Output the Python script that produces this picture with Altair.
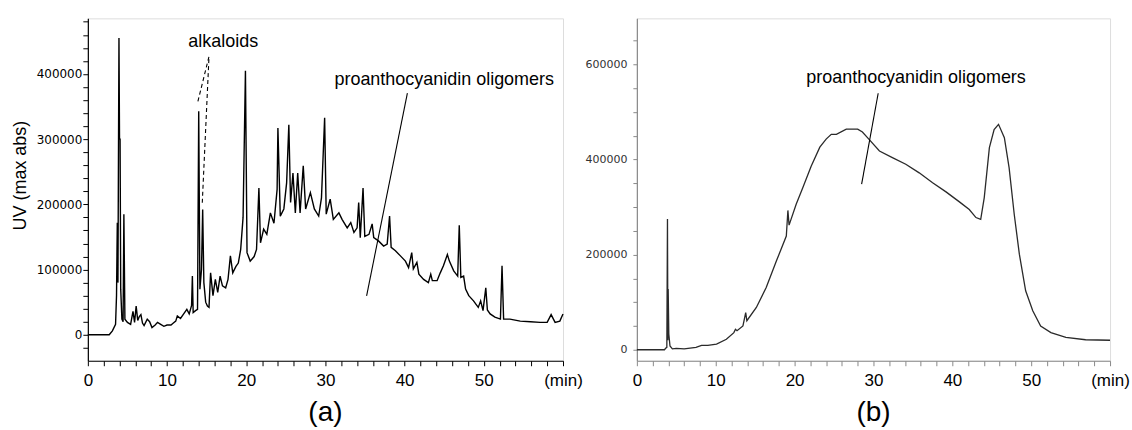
import altair as alt
import pandas as pd

# ---------------- panel (a): full extract chromatogram ----------------
a_time = [0, 2.7, 3.1, 3.5, 3.62, 3.72, 3.8, 3.93, 4.0, 4.07, 4.15, 4.3, 4.45, 4.55, 4.68,
          5.0, 5.4, 5.7, 5.9, 6.1, 6.3, 6.5, 6.7, 6.9, 7.1, 7.5, 7.8, 8.1, 8.5, 8.8, 9.2,
          9.6, 10.0, 10.5, 10.8, 11.1, 11.3, 11.7, 12.1, 12.5, 12.8, 13.1, 13.2, 13.3, 13.6,
          13.85, 14.0, 14.15, 14.35, 14.5, 14.65, 14.88, 15.1, 15.3, 15.5, 15.8, 16.1, 16.4,
          16.7, 17.0, 17.4, 17.7, 18.0, 18.3, 18.7, 19.0, 19.3, 19.6, 19.9, 20.1, 20.5, 21.0,
          21.3, 21.6, 21.8, 22.2, 22.6, 23.05, 23.5, 23.9, 24.0, 24.3, 24.75, 25.1, 25.38,
          25.6, 25.9, 26.2, 26.5, 26.8, 27.2, 27.5, 28.1, 28.6, 29.15, 29.5, 29.9, 30.1, 30.6,
          31.0, 31.7, 32.1, 32.75, 33.2, 33.6, 34.0, 34.2, 34.4, 34.75, 34.97, 35.5, 35.9,
          36.1, 36.7, 37.35, 37.8, 38.1, 38.3, 38.84, 39.47, 40.1, 40.5, 40.9, 41.1, 41.55,
          41.8, 42.4, 43.0, 43.3, 43.5, 44.1, 44.5, 44.9, 45.4, 45.65, 46.2, 46.7, 46.9, 47.1,
          47.45, 47.7, 48.1, 48.7, 49.3, 49.6, 49.9, 50.25, 50.45, 50.8, 51.4, 52.1, 52.3,
          52.5, 53.3, 54.6, 55.9, 57.1, 58.0, 58.5, 59.0, 59.6, 60.0]
a_uv = [0, 0, 6000, 16000, 60000, 172000, 80000, 455000, 300000, 300000, 70000, 24000, 20000,
        185000, 24000, 19000, 16000, 36000, 19000, 44000, 22000, 28000, 31000, 18000, 14000,
        24000, 20000, 11000, 15000, 19000, 16000, 13000, 15000, 15000, 18000, 21000, 29000,
        25000, 32000, 39000, 32000, 45000, 90000, 34000, 37000, 39000, 343000, 70000, 100000,
        192000, 80000, 50000, 44000, 42000, 95000, 60000, 85000, 65000, 90000, 75000, 72000,
        85000, 121000, 95000, 105000, 110000, 131000, 180000, 405000, 126000, 113000, 120000,
        131000, 225000, 141000, 162000, 154000, 187000, 171000, 223000, 317000, 182000, 193000,
        233000, 322000, 203000, 248000, 187000, 248000, 187000, 259000, 193000, 218000, 193000,
        182000, 210000, 333000, 185000, 208000, 177000, 187000, 177000, 164000, 172000, 157000,
        164000, 203000, 149000, 225000, 151000, 154000, 170000, 149000, 144000, 136000, 139000,
        182000, 134000, 129000, 121000, 113000, 103000, 126000, 101000, 111000, 93000, 85000,
        80000, 93000, 83000, 83000, 95000, 106000, 123000, 113000, 98000, 90000, 168000, 88000,
        90000, 70000, 60000, 52000, 42000, 52000, 37000, 72000, 38000, 32000, 27000, 24000,
        106000, 24000, 24000, 21000, 20000, 19000, 19000, 31000, 19000, 21000, 32000]

# ---------------- panel (b): oligomer fraction ----------------
b_time = [0, 3.5, 3.65, 3.8, 3.88, 3.93, 3.97, 4.05, 4.2, 4.5, 5.0, 6.0, 7.5, 8.2, 9.0, 10.1,
          11.35, 12.3, 12.5, 12.7, 13.45, 13.8, 13.95, 15.15, 16.4, 17.7, 18.95, 19.15, 19.3,
          20.2, 21.05, 22.1, 23.2, 24.0, 24.65, 25.3, 26.55, 28.0, 28.6, 29.3, 30.76, 32.4,
          34.1, 35.8, 37.5, 39.2, 40.9, 42.15, 43.0, 43.6, 44.05, 44.7, 45.3, 45.86, 46.6,
          47.2, 47.85, 48.5, 49.3, 50.2, 51.2, 52.5, 54.4, 56.9, 60.0]
b_uv = [0, 0, 3000, 5000, 275000, 20000, 128000, 33000, 8000, 2000, 3000, 2000, 5000, 9000,
        9000, 12000, 22000, 36000, 43000, 40000, 50000, 78000, 61000, 89000, 131000, 187000,
        239000, 293000, 262000, 306000, 341000, 386000, 426000, 443000, 453000, 453000, 464000,
        464000, 458000, 445000, 418000, 404000, 390000, 372000, 351000, 332000, 311000, 295000,
        278000, 274000, 320000, 425000, 463000, 474000, 446000, 383000, 285000, 201000, 124000,
        82000, 50000, 36000, 26000, 21000, 20000]

# ---------------- annotations ----------------
a_labels = ["alkaloids", "proanthocyanidin oligomers"]
a_label_t = [17.1, 45.0]
a_label_v = [441000, 383800]
a_dash_t = [13.9, 14.45]
a_dash_v = [358000, 202500]
a_dash_t2 = [15.3, 15.3]
a_dash_v2 = [427000, 427000]
a_lead_t = [40.35]
a_lead_v = [370500]
a_lead_t2 = [35.2]
a_lead_v2 = [59700]

b_labels = ["proanthocyanidin oligomers"]
b_label_t = [35.4]
b_label_v = [561000]
b_lead_t = [30.6]
b_lead_v = [539400]
b_lead_t2 = [28.5]
b_lead_v2 = [348400]

x_ticks = list(range(0, 61, 2))
a_y_ticks = list(range(-20000, 480001, 20000))
b_y_ticks = list(range(0, 650001, 50000))

FONT = "Liberation Sans"
x_label_expr = "datum.value % 10 === 0 ? (datum.value === 60 ? '(min)' : datum.label) : ''"


def x_axis(color):
    return alt.Axis(values=x_ticks, labelExpr=x_label_expr, title=None, grid=False,
                    labelFont=FONT, labelFontSize=17, labelColor="black", labelPadding=7,
                    labelOverlap=False, labelFlush=False, labelBound=False, tickSize=5,
                    tickColor=color, domainColor=color, domainWidth=1.2)


# ----- panel (a) -----
a_x = alt.X("t:Q", scale=alt.Scale(domain=[0, 60], nice=False, zero=False), axis=x_axis("black"))
a_y = alt.Y("uv:Q", scale=alt.Scale(domain=[-39800, 485300], nice=False, zero=False),
            axis=alt.Axis(values=a_y_ticks, format="d",
                          labelExpr="datum.value % 100000 === 0 ? datum.label : ''",
                          title="UV (max abs)", titleFont=FONT, titleFontSize=18,
                          titleFontWeight="normal", titleX=-67, titleY=157,
                          titleBaseline="middle", titleColor="black",
                          labelFont="DejaVu Sans", labelFontSize=12, labelColor="black",
                          labelPadding=1, labelOverlap=False, labelBound=False, tickSize=5,
                          grid=False, tickColor="black", domainColor="black", domainWidth=1.2))

a_df = pd.DataFrame({"t": a_time, "uv": a_uv})
a_line = alt.Chart(a_df).mark_line(color="black", strokeWidth=1.4).encode(x=a_x, y=a_y)
a_txt = alt.Chart(pd.DataFrame({"t": a_label_t, "uv": a_label_v, "s": a_labels})).mark_text(
    font=FONT, fontSize=18, color="black", align="center", baseline="alphabetic"
).encode(x=a_x, y=a_y, text="s:N")
a_dash = alt.Chart(pd.DataFrame({"t": a_dash_t, "uv": a_dash_v, "t2": a_dash_t2, "uv2": a_dash_v2})).mark_rule(
    color="black", strokeWidth=1.1, strokeDash=[4, 3]
).encode(x=a_x, y=a_y, x2="t2:Q", y2="uv2:Q")
a_lead = alt.Chart(pd.DataFrame({"t": a_lead_t, "uv": a_lead_v, "t2": a_lead_t2, "uv2": a_lead_v2})).mark_rule(
    color="black", strokeWidth=1.1
).encode(x=a_x, y=a_y, x2="t2:Q", y2="uv2:Q")

panel_a = alt.layer(a_line, a_dash, a_lead, a_txt).properties(
    width=476, height=343,
    title=alt.TitleParams("(a)", orient="bottom", font=FONT, fontSize=28,
                          fontWeight="normal", color="black", offset=10))

# ----- panel (b) -----
GREY = "#8a8a8a"
b_x = alt.X("t:Q", scale=alt.Scale(domain=[0, 60], nice=False, zero=False), axis=x_axis(GREY))
b_y = alt.Y("uv:Q", scale=alt.Scale(domain=[-23100, 696900], nice=False, zero=False),
            axis=alt.Axis(values=b_y_ticks, format="d",
                          labelExpr="datum.value % 200000 === 0 ? datum.label : ''",
                          title=None, labelFont="DejaVu Sans", labelFontSize=11,
                          labelColor="#333333", labelPadding=6, labelOverlap=False,
                          labelBound=False, tickSize=4, grid=False, tickColor=GREY,
                          domainColor=GREY, domainWidth=1.2))

b_df = pd.DataFrame({"t": b_time, "uv": b_uv})
b_line = alt.Chart(b_df).mark_line(color="#2a2a2a", strokeWidth=1.3).encode(x=b_x, y=b_y)
b_txt = alt.Chart(pd.DataFrame({"t": b_label_t, "uv": b_label_v, "s": b_labels})).mark_text(
    font=FONT, fontSize=18, color="black", align="center", baseline="alphabetic"
).encode(x=b_x, y=b_y, text="s:N")
b_lead = alt.Chart(pd.DataFrame({"t": b_lead_t, "uv": b_lead_v, "t2": b_lead_t2, "uv2": b_lead_v2})).mark_rule(
    color="black", strokeWidth=1.1
).encode(x=b_x, y=b_y, x2="t2:Q", y2="uv2:Q")

panel_b = alt.layer(b_line, b_lead, b_txt).properties(
    width=474, height=343,
    title=alt.TitleParams("(b)", orient="bottom", font=FONT, fontSize=28,
                          fontWeight="normal", color="black", offset=10))

chart = alt.hconcat(panel_a, panel_b, spacing=74, bounds="flush").properties(
    padding={"left": 11, "top": 14, "right": 2, "bottom": 0}
).configure_view(stroke=None).configure(background="white")

chart.save("out.html", embed_options={"renderer": "svg", "actions": False})
